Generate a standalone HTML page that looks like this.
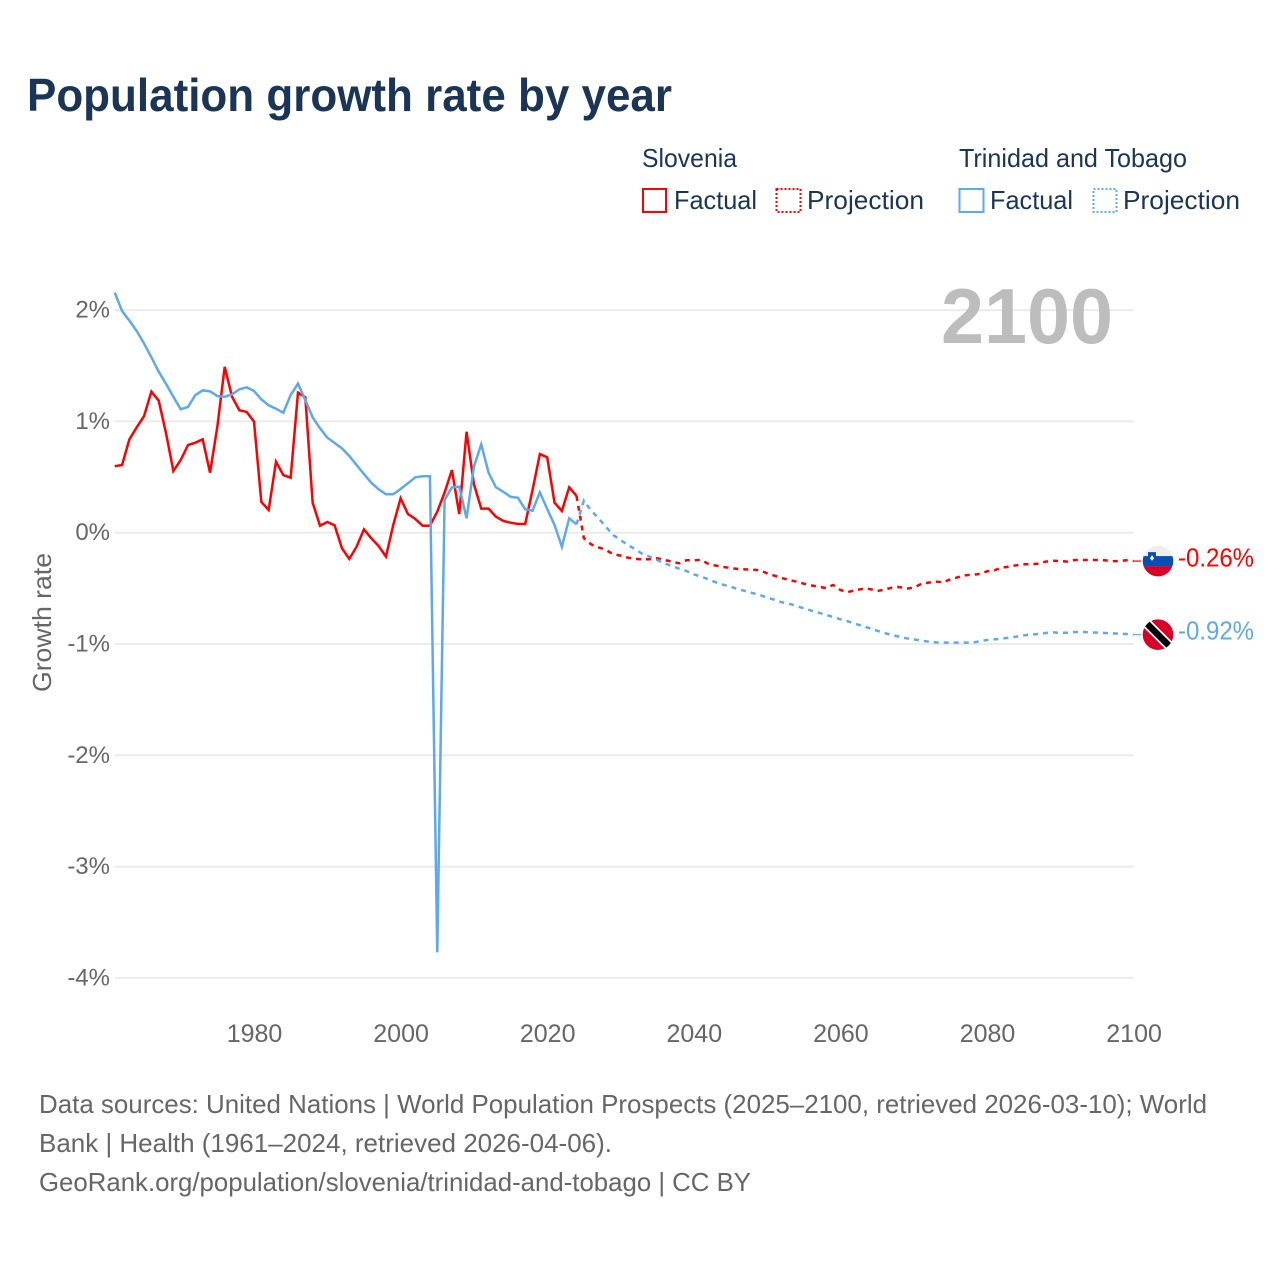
<!DOCTYPE html>
<html lang="en">
<head>
<meta charset="utf-8">
<title>Population growth rate by year</title>
<style>
html,body{margin:0;padding:0;background:#fff;width:1280px;height:1280px;overflow:hidden}
svg{display:block}
text{font-family:"Liberation Sans",sans-serif}
</style>
</head>
<body>
<svg id="chart" xmlns="http://www.w3.org/2000/svg" width="1280" height="1280" viewBox="0 0 1280 1280">
  <defs>
    <clipPath id="flag-clip"><circle cx="0" cy="0" r="15.3"></circle></clipPath>
  </defs>
  <rect x="0" y="0" width="1280" height="1280" fill="#ffffff"></rect>
  <text x="27" y="111" font-size="46" font-weight="700" fill="#1a3556" textLength="645" lengthAdjust="spacingAndGlyphs">Population growth rate by year</text>

  <g font-size="26" fill="#1a3556">
    <text x="642" y="167" textLength="95" lengthAdjust="spacingAndGlyphs">Slovenia</text>
    <text x="959" y="167" textLength="228" lengthAdjust="spacingAndGlyphs">Trinidad and Tobago</text>
    <rect x="643" y="189" width="23" height="23" fill="none" stroke="#ff0000" stroke-width="2"></rect>
    <text x="674" y="209" textLength="83" lengthAdjust="spacingAndGlyphs">Factual</text>
    <rect x="776.5" y="189" width="24" height="23" fill="none" stroke="#ff0000" stroke-width="2" stroke-dasharray="2 2"></rect>
    <text x="807" y="209" textLength="117" lengthAdjust="spacingAndGlyphs">Projection</text>
    <rect x="959.5" y="189" width="24" height="23" fill="none" stroke="#5ea8ec" stroke-width="2"></rect>
    <text x="990" y="209" textLength="83" lengthAdjust="spacingAndGlyphs">Factual</text>
    <rect x="1093.5" y="189" width="23" height="23" fill="none" stroke="#5ea8ec" stroke-width="2" stroke-dasharray="2 2"></rect>
    <text x="1123" y="209" textLength="117" lengthAdjust="spacingAndGlyphs">Projection</text>
  </g>

  <g id="grid"></g>
  <g id="y-ticks"></g>
  <g id="x-ticks"></g>

  <text x="941" y="343" font-size="78" font-weight="700" fill="#bdbdbd" textLength="172" lengthAdjust="spacingAndGlyphs">2100</text>
  <text transform="translate(51 692) rotate(-90)" font-size="26" fill="#666666" textLength="139" lengthAdjust="spacingAndGlyphs">Growth rate</text>

  <g id="series"></g>

  <g id="flag-slovenia">
    <g clip-path="url(#flag-clip)">
      <rect x="-16" y="-16" width="32" height="32" fill="#eeeeee"></rect>
      <rect x="-16" y="-5" width="32" height="10" fill="#0a50b4"></rect>
      <rect x="-16" y="5" width="32" height="12" fill="#d80027"></rect>
      <path d="M-10 -9 H-2 V-3 Q-2 0 -6 1.5 Q-10 0 -10 -3 Z" fill="#0a50b4"></path>
      <path d="M-8 -3 L-6 -6 L-4 -3 Q-5 -1 -6 -0.5 Q-7 -1 -8 -3 Z" fill="#ffffff"></path>
    </g>
  </g>
  <g id="flag-trinidad">
    <g clip-path="url(#flag-clip)">
      <rect x="-16" y="-16" width="32" height="32" fill="#d80027"></rect>
      <path d="M-16 -16 L16 16" stroke="#ffffff" stroke-width="10"></path>
      <path d="M-16 -16 L16 16" stroke="#000000" stroke-width="6.5"></path>
    </g>
  </g>

  <text id="label-slovenia" x="1178" font-size="26" fill="#ff0000" textLength="76" lengthAdjust="spacingAndGlyphs"></text>
  <text id="label-trinidad" x="1178" font-size="26" fill="#5ea8ec" textLength="76" lengthAdjust="spacingAndGlyphs"></text>

  <g font-size="26" fill="#666666">
    <text x="39" y="1113" textLength="1168" lengthAdjust="spacingAndGlyphs">Data sources: United Nations | World Population Prospects (2025–2100, retrieved 2026-03-10); World</text>
    <text x="39" y="1152" textLength="573" lengthAdjust="spacingAndGlyphs">Bank | Health (1961–2024, retrieved 2026-04-06).</text>
    <text x="39" y="1191" textLength="712" lengthAdjust="spacingAndGlyphs">GeoRank.org/population/slovenia/trinidad-and-tobago | CC BY</text>
  </g>
</svg>

<script>
const firstYear = 1961;
const projectionFirstYear = 2025;
const yTickValues = [2, 1, 0, -1, -2, -3, -4];
const yTickLabels = ["2%", "1%", "0%", "-1%", "-2%", "-3%", "-4%"];
const xTickValues = [1980, 2000, 2020, 2040, 2060, 2080, 2100];
const xTickLabels = ["1980", "2000", "2020", "2040", "2060", "2080", "2100"];
const endLabelSlovenia = "-0.26%";
const endLabelTrinidad = "-0.92%";

const sloveniaFactual = [
  0.597, 0.608, 0.839, 0.947, 1.048, 1.267, 1.186, 0.893, 0.554, 0.653,
  0.788, 0.809, 0.839, 0.539, 0.952, 1.49, 1.222, 1.10, 1.085, 0.998,
  0.276, 0.204, 0.638, 0.518, 0.494, 1.258, 1.217, 0.27, 0.063, 0.096,
  0.066, -0.14, -0.236, -0.125, 0.03, -0.05, -0.12, -0.215, 0.07, 0.309,
  0.168, 0.123, 0.063, 0.063, 0.189, 0.36, 0.563, 0.168, 0.907, 0.437,
  0.216, 0.216, 0.144, 0.105, 0.09, 0.078, 0.078, 0.384, 0.707, 0.677,
  0.27, 0.195, 0.408, 0.33
];
const trinidadFactual = [
  2.157, 1.992, 1.905, 1.812, 1.70, 1.576, 1.447, 1.336, 1.222, 1.109,
  1.13, 1.237, 1.279, 1.27, 1.228, 1.222, 1.243, 1.288, 1.306, 1.273,
  1.198, 1.145, 1.114, 1.078, 1.237, 1.339, 1.192, 1.037, 0.938, 0.854,
  0.806, 0.758, 0.689, 0.608, 0.527, 0.449, 0.39, 0.345, 0.345, 0.393,
  0.444, 0.498, 0.507, 0.507, -3.77, 0.294, 0.408, 0.413, 0.129, 0.593,
  0.794, 0.539, 0.408, 0.368, 0.323, 0.314, 0.21, 0.198, 0.363, 0.213,
  0.069, -0.126, 0.129, 0.075
];
const sloveniaProjection = [
  -0.05, -0.105, -0.131, -0.155, -0.194, -0.206, -0.224, -0.236, -0.239, -0.239,
  -0.23, -0.245, -0.26, -0.275, -0.248, -0.248, -0.245, -0.281, -0.296, -0.308,
  -0.317, -0.326, -0.329, -0.332, -0.338, -0.365, -0.386, -0.407, -0.425, -0.44,
  -0.458, -0.473, -0.485, -0.497, -0.47, -0.515, -0.535, -0.515, -0.506, -0.506,
  -0.524, -0.512, -0.494, -0.488, -0.503, -0.494, -0.461, -0.449, -0.44, -0.446,
  -0.419, -0.401, -0.383, -0.377, -0.371, -0.347, -0.338, -0.314, -0.305, -0.293,
  -0.284, -0.284, -0.278, -0.26, -0.252, -0.255, -0.26, -0.245, -0.245, -0.245,
  -0.245, -0.248, -0.255, -0.255, -0.248, -0.255
];
const trinidadProjection = [
  0.288, 0.198, 0.129, 0.054, -0.021, -0.066, -0.11, -0.149, -0.191, -0.216,
  -0.245, -0.275, -0.299, -0.323, -0.344, -0.374, -0.395, -0.419, -0.446, -0.467,
  -0.485, -0.506, -0.524, -0.542, -0.56, -0.584, -0.602, -0.625, -0.638, -0.659,
  -0.679, -0.70, -0.719, -0.737, -0.757, -0.778, -0.796, -0.818, -0.838, -0.859,
  -0.88, -0.901, -0.919, -0.934, -0.949, -0.958, -0.97, -0.979, -0.985, -0.988,
  -0.988, -0.988, -0.988, -0.988, -0.976, -0.964, -0.958, -0.952, -0.943, -0.934,
  -0.922, -0.916, -0.91, -0.901, -0.895, -0.901, -0.898, -0.892, -0.892, -0.895,
  -0.898, -0.901, -0.904, -0.907, -0.91, -0.916
];

const NS = "http://www.w3.org/2000/svg";
const COLOR_SLOVENIA = "#ff0000";
const COLOR_TRINIDAD = "#5ea8ec";

function xScale(year) { return 254 + (year - 1980) * 7.33; }
function yScale(value) { return 532.7 - value * 111.3; }

function make(tag, attrs, parent) {
  const el = document.createElementNS(NS, tag);
  for (const k in attrs) el.setAttribute(k, attrs[k]);
  parent.appendChild(el);
  return el;
}

function linePath(startYear, values) {
  return values.map(function (v, i) {
    return (i ? "L" : "M") + xScale(startYear + i).toFixed(2) + " " + yScale(v).toFixed(2);
  }).join(" ");
}

const gridGroup = document.getElementById("grid");
const yTickGroup = document.getElementById("y-ticks");
const xTickGroup = document.getElementById("x-ticks");
const seriesGroup = document.getElementById("series");

yTickValues.forEach(function (v, i) {
  const line = make("line", { x1: 115, x2: xScale(2100), y1: yScale(v), y2: yScale(v), stroke: "#ebebeb", "stroke-width": 2 }, gridGroup);
  
  
  const label = make("text", { x: 110, y: yScale(v) + 7.5, "text-anchor": "end", "font-size": 24, fill: "#666666" }, yTickGroup);
  
  
  label.textContent = yTickLabels[i];
});

xTickValues.forEach(function (v, i) {
  const label = make("text", { x: xScale(v) + 0.5, y: 1042, "text-anchor": "middle", "font-size": 25, fill: "#666666" }, xTickGroup);
  
  
  label.textContent = xTickLabels[i];
});

function drawSeries(factual, projection, color, key) {
  const solid = make("path", { d: linePath(firstYear, factual), fill: "none", stroke: color, "stroke-width": 2.5 }, seriesGroup);
  
  
  const joined = [factual[factual.length - 1]].concat(projection);
  const dashed = make("path", { d: linePath(projectionFirstYear - 1, joined), fill: "none", stroke: color, "stroke-width": 2.5, "stroke-dasharray": "5 5" }, seriesGroup);
  
  
  const last = projection[projection.length - 1];
  const lead = make("line", { x1: xScale(2100), x2: 1141, y1: yScale(last), y2: yScale(last), stroke: color, "stroke-width": 1.2 }, seriesGroup);
  
  
}

drawSeries(sloveniaFactual, sloveniaProjection, COLOR_SLOVENIA, "slovenia");
drawSeries(trinidadFactual, trinidadProjection, COLOR_TRINIDAD, "trinidad");

const lastSlovenia = sloveniaProjection[sloveniaProjection.length - 1];
const lastTrinidad = trinidadProjection[trinidadProjection.length - 1];
document.getElementById("flag-slovenia").setAttribute("transform", "translate(1158 " + yScale(lastSlovenia) + ")");
document.getElementById("flag-trinidad").setAttribute("transform", "translate(1158 " + yScale(lastTrinidad) + ")");
const labelSlovenia = document.getElementById("label-slovenia");
labelSlovenia.setAttribute("y", yScale(lastSlovenia) + 5.5);
labelSlovenia.textContent = endLabelSlovenia;
const labelTrinidad = document.getElementById("label-trinidad");
labelTrinidad.setAttribute("y", yScale(lastTrinidad) + 5);
labelTrinidad.textContent = endLabelTrinidad;
</script>
</body>
</html>
